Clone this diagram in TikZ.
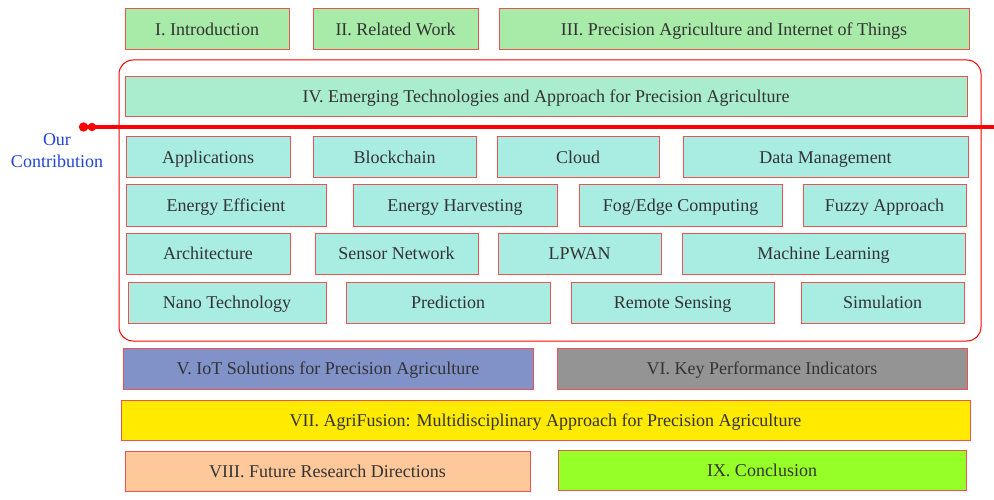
\documentclass[tikz,border=0pt]{standalone}
\usepackage{fontspec}
\setmainfont{Liberation Serif}
\usetikzlibrary{positioning}
\usetikzlibrary{arrows.meta}
\usetikzlibrary{backgrounds}
\definecolor{edgered}{RGB}{232,84,84}
\definecolor{textgray}{RGB}{51,51,51}
\definecolor{introgreen}{RGB}{168,234,168}
\definecolor{techmint}{RGB}{170,236,206}
\definecolor{topicteal}{RGB}{168,236,226}
\definecolor{iotblue}{RGB}{128,146,200}
\definecolor{kpigray}{RGB}{148,148,148}
\definecolor{fusionyellow}{RGB}{255,234,0}
\definecolor{futurepeach}{RGB}{255,200,154}
\definecolor{conclgreen}{RGB}{150,255,40}
\definecolor{ourblue}{RGB}{34,68,210}

\begin{document}
\begin{tikzpicture}[
            x = 1pt, y = -1pt, % pixel grid of the reference
            font = \fontsize{18}{22}\selectfont,
            section/.style = {
                draw = edgered,
                line width = 1pt,
                text = textgray,
                minimum height = 41pt,
                text height = 12pt, % same baseline in every box
                text depth = 0pt,
                inner sep = 0pt,
                outer sep = 0pt
            },
            topic/.style = {
                section,
                fill = topicteal
            },
            sepline/.style = {
                red,
                line width = 4pt,
                {Circle[length=9pt] Circle[length=8pt]}-
            }
            ]

        \useasboundingbox (0,0) rectangle (994,500);

	% sections I - III
	\node[section, fill = introgreen, minimum width = 164pt, anchor = west] (intro) at (125,29.5) {I. Introduction};
	\node[section, fill = introgreen, minimum width = 165pt] (related) [right = 24pt of intro] {II. Related Work};
	\node[section, fill = introgreen, minimum width = 470pt] (paiot) [right = 21pt of related] {III. Precision Agriculture and Internet of Things};

	% section IV
	\node[section, fill = techmint, minimum width = 842pt, minimum height = 40pt, anchor = west] (emerging) at (125,97) {IV. Emerging Technologies and Approach for Precision Agriculture};

	% topics, first row
	\node[topic, minimum width = 164pt, anchor = west] (app) at (126,157.5) {Applications};
	\node[topic, minimum width = 163pt] (block) [right = 23pt of app] {Blockchain};
	\node[topic, minimum width = 162pt] (cloud) [right = 21pt of block] {Cloud};
	\node[topic, minimum width = 285pt] (data) [right = 24pt of cloud] {Data Management};

	% topics, second row
	\node[topic, minimum width = 200pt, anchor = west] (eneff) at (126,205.5) {Energy Efficient};
	\node[topic, minimum width = 204pt] (enharv) [right = 27pt of eneff] {Energy Harvesting};
	\node[topic, minimum width = 203pt] (fog) [right = 22pt of enharv] {Fog/Edge Computing};
	\node[topic, minimum width = 163pt] (fuzzy) [right = 21pt of fog] {Fuzzy Approach};

	% topics, third row
	\node[topic, minimum width = 164pt, anchor = west] (arch) at (126,253.5) {Architecture};
	\node[topic, minimum width = 163pt] (sensor) [right = 25pt of arch] {Sensor Network};
	\node[topic, minimum width = 163pt] (lpwan) [right = 20pt of sensor] {LPWAN};
	\node[topic, minimum width = 283pt] (ml) [right = 21pt of lpwan] {Machine Learning};

	% topics, fourth row
	\node[topic, minimum width = 198pt, anchor = west] (nano) at (128,302.5) {Nano Technology};
	\node[topic, minimum width = 204pt] (pred) [right = 20pt of nano] {Prediction};
	\node[topic, minimum width = 203pt] (remote) [right = 21pt of pred] {Remote Sensing};
	\node[topic, minimum width = 163pt] (sim) [right = 27pt of remote] {Simulation};

	% sections V - IX
	\node[section, fill = iotblue, minimum width = 410pt, anchor = west] (solutions) at (123,368.5) {V. IoT Solutions for Precision Agriculture};
	\node[section, fill = kpigray, minimum width = 410pt] (kpi) [right = 24pt of solutions] {VI. Key Performance Indicators};
	\node[section, fill = fusionyellow, minimum width = 849pt, minimum height = 40pt, anchor = west] (fusion) at (121,420) {VII. AgriFusion: Multidisciplinary Approach for Precision Agriculture};
	\node[section, fill = futurepeach, minimum width = 405pt, minimum height = 40pt, anchor = west] (future) at (125,471) {VIII. Future Research Directions};
	\node[section, fill = conclgreen, minimum width = 408pt, minimum height = 40pt, anchor = west] (concl) at (558,470) {IX. Conclusion};

	% contribution frame and marker
	\begin{scope}[on background layer]
	\node[draw = red, line width = 1pt, rounded corners = 14pt, minimum width = 862pt, minimum height = 281pt] (frame) at (550,200.5) {};
	\end{scope}
	\node[text = ourblue, align = center] (our) at (57,151) {Our\\Contribution};
	\coordinate (sepL) at (79,127);
	\coordinate (sepR) at (994,127);
	\draw[sepline] (sepL) -- (sepR);

\end{tikzpicture}
\end{document}
